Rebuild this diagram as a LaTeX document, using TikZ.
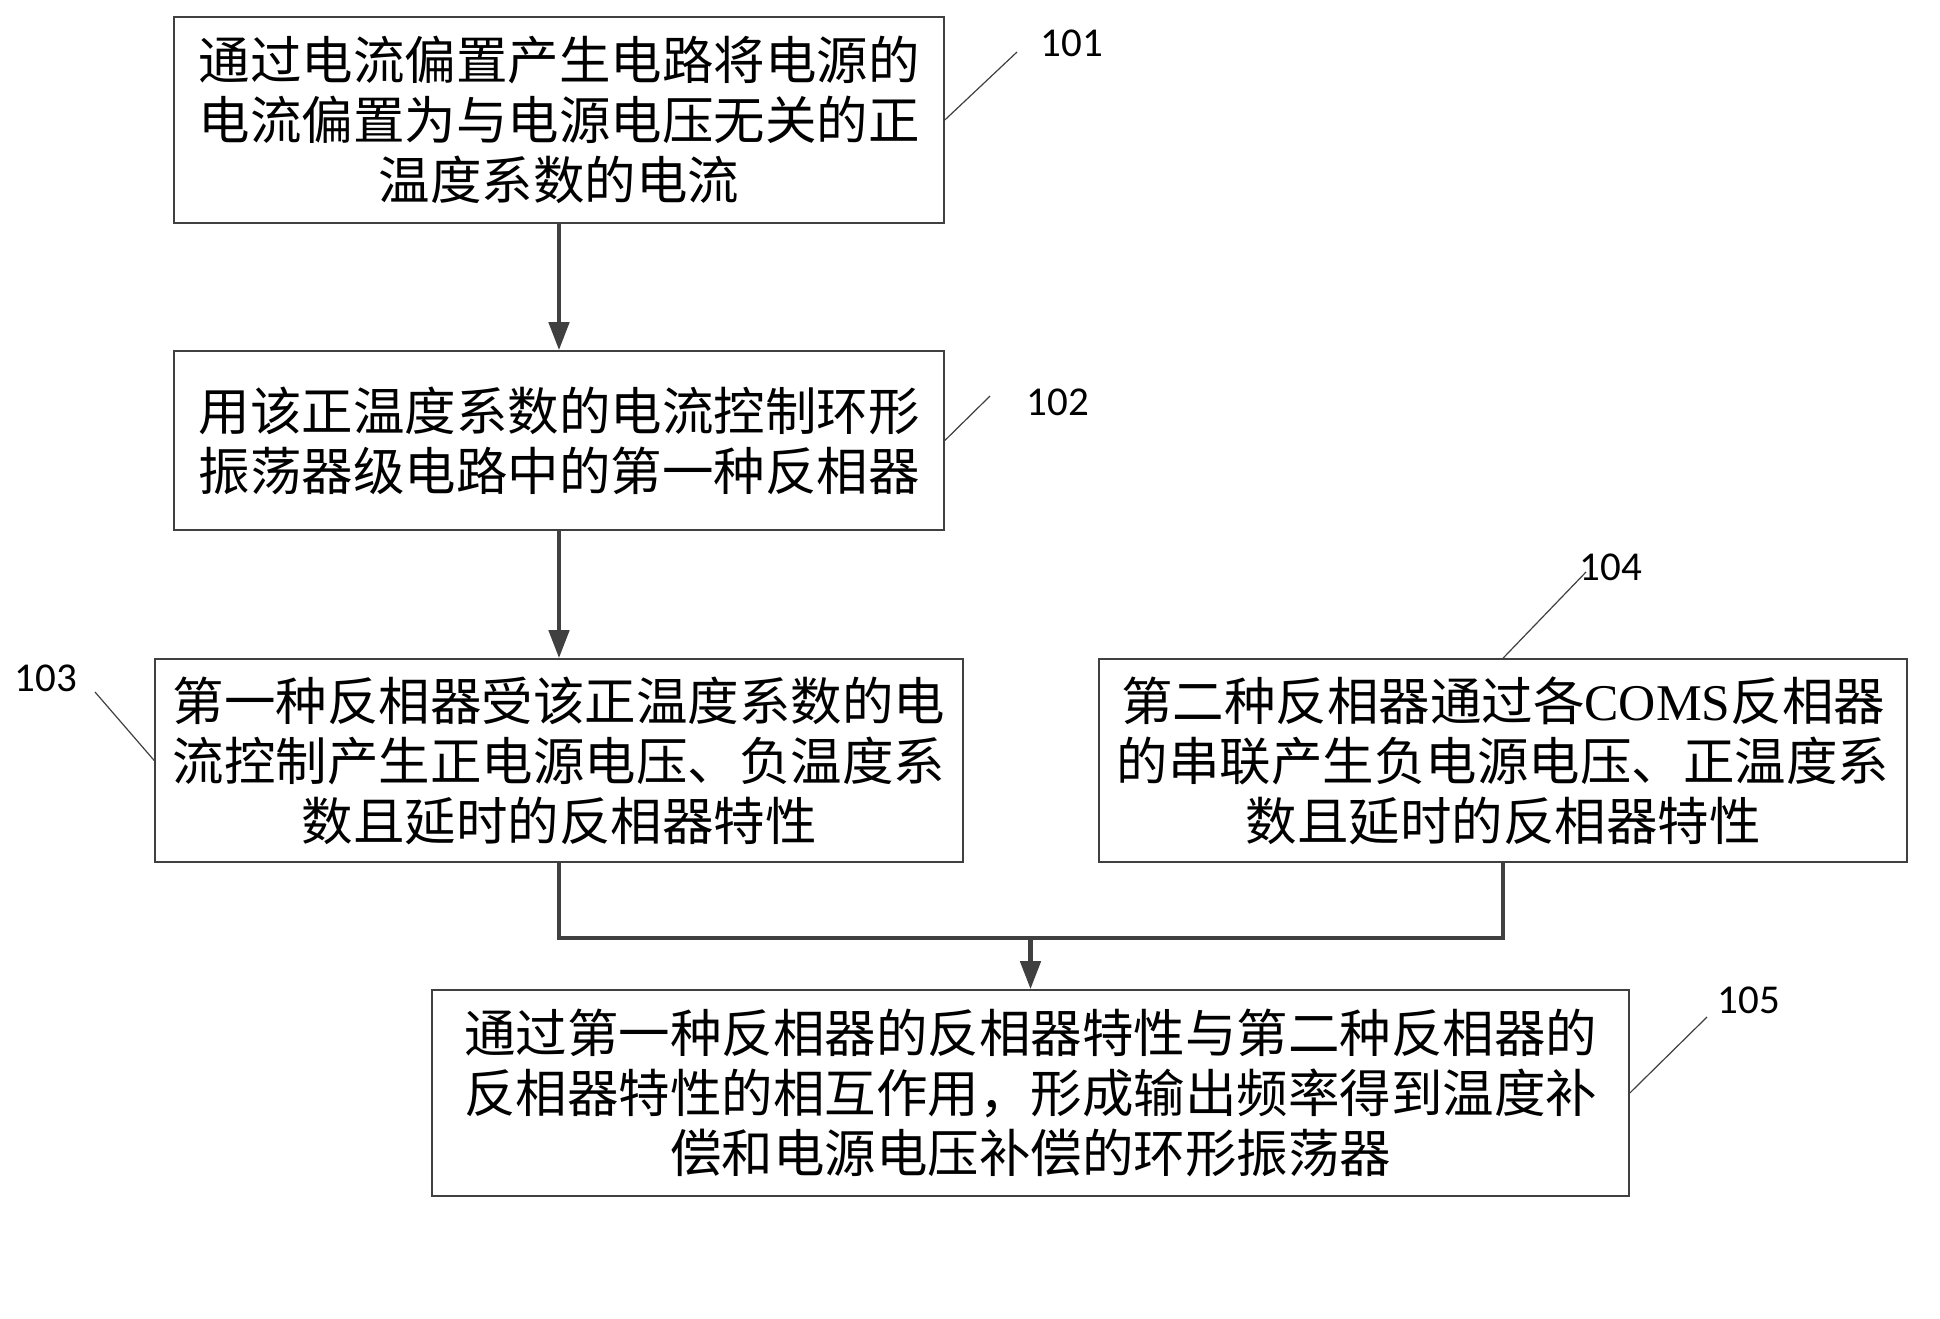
\documentclass[tikz,border=0pt]{standalone}
\usepackage{fontspec}
\setmainfont{Liberation Serif}
\newfontfamily\cjk{Noto Sans CJK SC}
\newfontfamily\lbl{Carlito}
\usetikzlibrary{arrows.meta}
\definecolor{linegray}{HTML}{404040}
\tikzset{
  stepbox/.style={draw=linegray, line width=1.6pt, rectangle, align=center, inner sep=0pt,
    font=\cjk\fontsize{51.5pt}{60pt}\selectfont},
  flow/.style={draw=linegray, line width=4.5pt, -{Triangle[length=28pt,width=20pt]}},
  flowline/.style={draw=linegray, line width=4.5pt},
  leader/.style={draw=linegray, line width=1.2pt},
  num/.style={font=\lbl\fontsize{41pt}{46pt}\selectfont, inner sep=0pt}
}
\begin{document}
\begin{tikzpicture}[x=1pt,y=1pt]
\useasboundingbox[fill=white] (0,0) rectangle (1940,-1319);
\node[stepbox, minimum width=770pt, minimum height=206pt] (b1) at (559,-120)
  {通过电流偏置产生电路将电源的\\电流偏置为与电源电压无关的正\\温度系数的电流};
\node[stepbox, minimum width=770pt, minimum height=179pt] (b2) at (559,-440.5)
  {用该正温度系数的电流控制环形\\振荡器级电路中的第一种反相器};
\node[stepbox, minimum width=808pt, minimum height=203pt] (b3) at (559,-760.5)
  {第一种反相器受该正温度系数的电\\流控制产生正电源电压、负温度系\\数且延时的反相器特性};
\node[stepbox, minimum width=808pt, minimum height=203pt] (b4) at (1503,-760.5)
  {第二种反相器通过各{\rmfamily COMS}反相器\\的串联产生负电源电压、正温度系\\数且延时的反相器特性};
\node[stepbox, minimum width=1197pt, minimum height=206pt] (b5) at (1030.5,-1093)
  {通过第一种反相器的反相器特性与第二种反相器的\\反相器特性的相互作用，形成输出频率得到温度补\\偿和电源电压补偿的环形振荡器};

\node[num] (n1) at (1072,-43) {101};
\node[num] (n2) at (1058,-402) {102};
\node[num] (n3) at (46,-678) {103};
\node[num] (n4) at (1611,-567) {104};
\node[num] (n5) at (1749,-1000) {105};

\coordinate (l1) at (1017,-52);
\coordinate (l2) at (990,-396);
\coordinate (l3) at (95,-692);
\coordinate (l4) at (1586,-572);
\coordinate (l5) at (1707,-1017);
\draw[leader] (b1.east) -- (l1);
\draw[leader] (b2.east) -- (l2);
\draw[leader] (b3.west) -- (l3);
\draw[leader] (b4.north) -- (l4);
\draw[leader] (b5.east) -- (l5);

\draw[flow] (b1.south) -- (b2.north);
\draw[flow] (b2.south) -- (b3.north);
\coordinate (j) at (1030.5,-938);
\draw[flowline] (b3.south) |- (j) -| (b4.south);
\draw[flow] (j) -- (b5.north);
\end{tikzpicture}
\end{document}
